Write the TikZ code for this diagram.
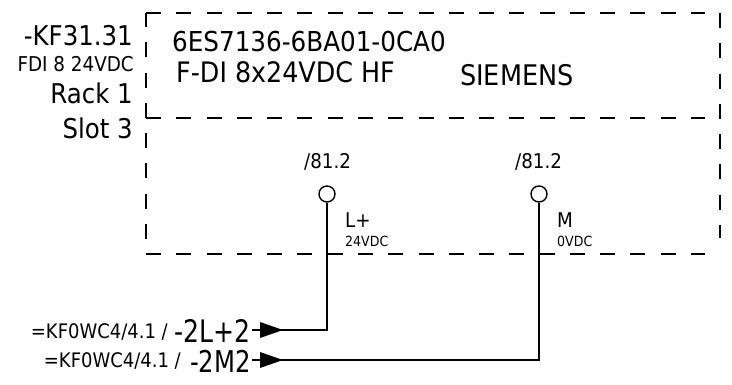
\documentclass[tikz,border=0pt]{standalone}
\usepackage{fontspec}
\setmainfont{DejaVu Sans Condensed}
\newfontfamily\narrowfont[FakeStretch=0.9]{DejaVu Sans Condensed}
\usetikzlibrary{shapes.geometric}
\newcommand{\fs}[1]{\fontsize{#1}{#1}\selectfont}
\tikzset{
  lbl/.style={inner sep=0pt,text=black,anchor=base west},
  lblr/.style={inner sep=0pt,text=black,anchor=base east},
  boxline/.style={line width=1.4pt,dash pattern=on 15pt off 15.28pt},
  wire/.style={line width=1.9pt},
  term/.style={circle,draw,line width=1.4pt,minimum size=16pt,inner sep=0pt,fill=white},
  tip/.style={fill=black,draw=none},
  stub/.style={line width=1.4pt}
}
\begin{document}
\begin{tikzpicture}[x=1pt,y=-1pt]
\useasboundingbox (0,0) rectangle (732,384);
% dashed frame
\coordinate (tl) at (146,13); \coordinate (tr) at (705,13);
\coordinate (ml) at (146,118); \coordinate (mr) at (705,118);
\coordinate (bl) at (146,254); \coordinate (br) at (705,254);
\coordinate (rt) at (720,13); \coordinate (rb) at (720,238);
\coordinate (lb) at (146,239);
\draw[boxline] (tl) -- (tr);
\draw[boxline] (ml) -- (mr);
\draw[boxline] (bl) -- (br);
\draw[boxline] (rt) -- (rb);
\draw[boxline] (lb) -- (tl);
% left labels
\node[lblr,font=\fs{27.2}] (kf) at (133,45) {-KF31.31};
\node[lblr,font=\fs{20.4}] (fdi) at (134,71) {FDI 8 24VDC};
\node[lblr,font=\fs{27.2}] (rack) at (133,103) {Rack 1};
\node[lblr,font=\fs{27.2}] (slot) at (133,138) {Slot 3};
% module text
\node[lbl,font=\fs{27.4}] (art) at (172,51) {6ES7136-6BA01-0CA0};
\node[lbl,font=\fs{28.2}] (typ) at (176,82) {F-DI 8x24VDC HF};
\node[lbl,font=\fs{28.4}] (sie) at (460,85) {SIEMENS};
% terminals
\node[lbl,font=\fs{20.3}] (r1) at (304,168) {/81.2};
\node[lbl,font=\fs{20.3}] (r2) at (515,168) {/81.2};
\node[term] (t1) at (327,194) {};
\node[term] (t2) at (539,194) {};
\node[lbl,font=\fs{20.3}] (lp) at (345,227) {L+};
\node[lbl,font=\fs{14}] (v24) at (345,246) {24VDC};
\node[lbl,font=\fs{20.3}] (mm) at (557,227) {M};
\node[lbl,font=\fs{14}] (v0) at (557,246) {0VDC};
% incoming
\node[lblr,font=\fs{20}] (x1) at (168,338) {=KF0WC4/4.1 /};
\node[lblr,font=\fs{20}] (x2) at (181,367) {=KF0WC4/4.1 /};
\node[lblr,font=\narrowfont\fs{31}] (w1) at (251,342) {-2L+2};
\node[lblr,font=\narrowfont\fs{30}] (w2) at (251,372) {-2M2};
\coordinate (a1) at (283,330); \coordinate (a2) at (283,360);
\coordinate (s1) at (252,330); \coordinate (s2) at (252,360);
\draw[stub] (s1) -- (a1);
\draw[stub] (s2) -- (a2);
\fill[tip] (a1) -- ++(-23,-8) -- ++(0,16) -- cycle;
\fill[tip] (a2) -- ++(-23,-8) -- ++(0,16) -- cycle;
\draw[wire] (t1) |- (a1);
\draw[wire] (t2) |- (a2);
\end{tikzpicture}
\end{document}
